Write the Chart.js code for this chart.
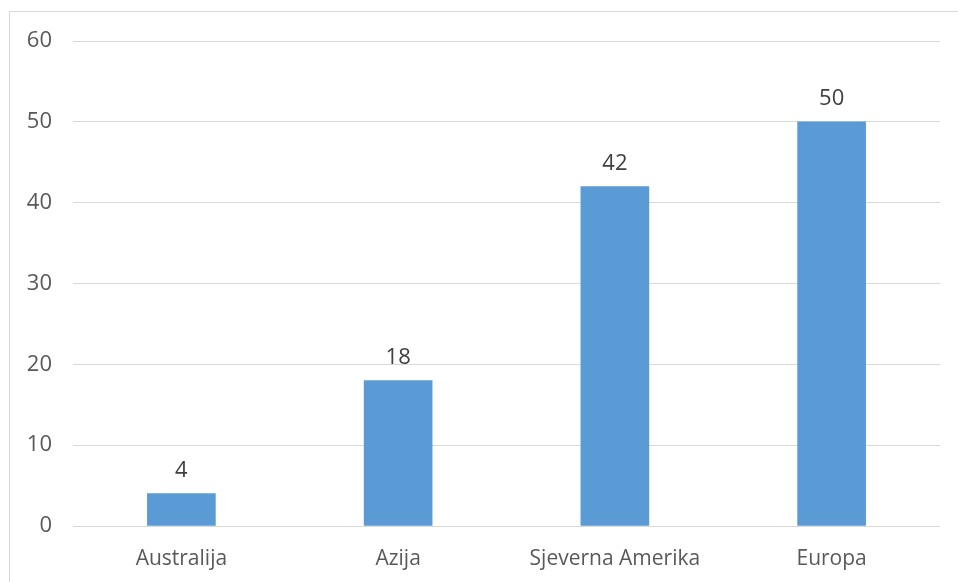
<!DOCTYPE html>
<html>
<head>
<meta charset="utf-8">
<script src="https://cdn.jsdelivr.net/npm/chart.js@4/dist/chart.umd.min.js"></script>
<style>
  html, body { margin: 0; padding: 0; background: #fff; overflow: hidden; }
  #wrap { position: relative; width: 958px; height: 582px; }
  #frame { position: absolute; left: 9px; top: 11px; width: 1200px; height: 1200px; border: 1px solid #d9d9d9; }
  canvas { position: absolute; left: 0; top: 0; }
</style>
</head>
<body>
<div id="wrap">
  <div id="frame"></div>
  <canvas id="regionChart" width="958" height="582"></canvas>
</div>
<script>
// podaci s grafikona
const regions = ['Australija', 'Azija', 'Sjeverna Amerika', 'Europa']
const counts = [4, 18, 42, 50]
const yTicks = [0, 10, 20, 30, 40, 50, 60]

const FONT = '"Open Sans", "DejaVu Sans", sans-serif'

// oznake vrijednosti iznad stupaca
const valueLabels = {
  id: 'valueLabels',
  afterDatasetsDraw(chart) {
    const ctx = chart.ctx
    const meta = chart.getDatasetMeta(0)
    ctx.save()
    ctx.font = '22px ' + FONT
    ctx.fillStyle = '#404040'
    ctx.textAlign = 'center'
    ctx.textBaseline = 'middle'
    meta.data.forEach((bar, i) => {
      ctx.fillText(String(counts[i]), bar.x, bar.y - 23)
    })
    ctx.restore()
  },
}

const ctx = document.getElementById('regionChart').getContext('2d')

new Chart(ctx, {
  type: 'bar',
  data: {
    labels: regions,
    datasets: [
      {
        data: counts,
        backgroundColor: '#5b9bd5',
        borderWidth: 0,
        barThickness: 68,
      },
    ],
  },
  options: {
    responsive: false,
    animation: false,
    layout: {
      padding: { left: 18, right: 18, top: 41, bottom: 0 },
    },
    scales: {
      x: {
        grid: { display: false, drawTicks: false },
        border: { display: false },
        ticks: {
          color: '#595959',
          font: { family: FONT, size: 21 },
          padding: 20,
          maxRotation: 0,
        },
        afterFit(axis) {
          axis.height = 56
        },
      },
      y: {
        min: 0,
        max: 60,
        afterBuildTicks(axis) {
          axis.ticks = yTicks.map((v) => ({ value: v }))
        },
        grid: { color: '#d9d9d9', lineWidth: 1, drawTicks: false },
        border: { display: false },
        ticks: {
          color: '#595959',
          font: { family: FONT, size: 22 },
          padding: 21,
        },
        afterFit(axis) {
          axis.width = 55
        },
      },
    },
    plugins: {
      legend: { display: false },
      tooltip: { enabled: false },
    },
  },
  plugins: [valueLabels],
})
</script>
</body>
</html>
